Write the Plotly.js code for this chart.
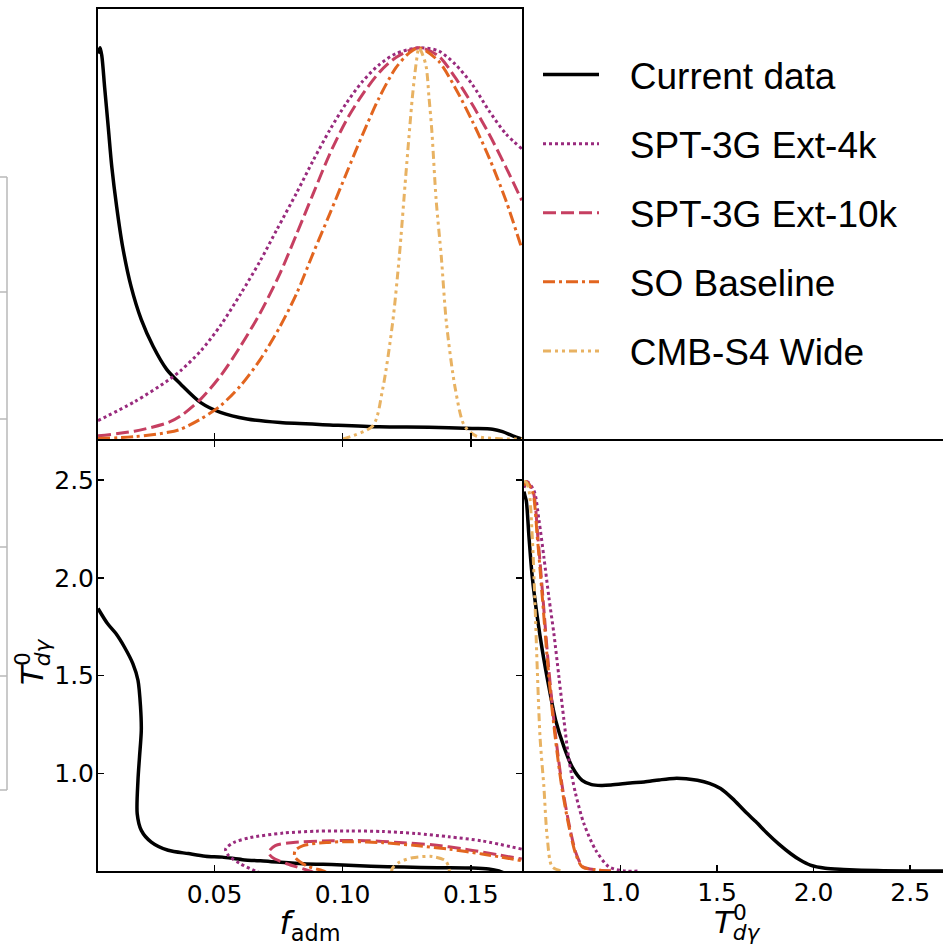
<!DOCTYPE html>
<html>
<head>
<meta charset="utf-8">
<script src="https://cdn.plot.ly/plotly-3.0.1.min.js"></script>
<style>html,body{margin:0;padding:0;background:#fff}#chart{width:943px;height:946px}</style>
</head>
<body>
<div id="chart"></div>
<script>
// ---------- data ----------
const seriesNames = ["Current data", "SPT-3G Ext-4k", "SPT-3G Ext-10k", "SO Baseline", "CMB-S4 Wide"];

// 1D posterior of f_adm (top-left panel), normalised to peak = 1
const fCurX = [0.0045,0.0053,0.0060,0.0071,0.0085,0.0099,0.0118,0.0141,0.0174,0.0214,0.0260,0.0313,0.0368,0.0446,0.0523,0.0627,0.0756,0.0950,0.1143,0.1337,0.1505,0.1585,0.1624,0.1664,0.1700];
const fCurY = [0.985,1.000,0.979,0.898,0.797,0.695,0.593,0.492,0.390,0.305,0.237,0.178,0.140,0.093,0.068,0.051,0.042,0.036,0.031,0.030,0.027,0.025,0.019,0.008,0.000];
const fS4kX = [0.0045,0.0187,0.0319,0.0368,0.0446,0.0523,0.0601,0.0678,0.0743,0.0821,0.0885,0.0950,0.1014,0.1079,0.1143,0.1208,0.1298,0.1374,0.1439,0.1505,0.1571,0.1637,0.1699];
const fS4kY = [0.047,0.095,0.150,0.175,0.225,0.290,0.370,0.455,0.535,0.630,0.712,0.790,0.858,0.915,0.957,0.985,1.000,0.992,0.958,0.907,0.839,0.780,0.742];
const fS10kX = [0.0045,0.0187,0.0319,0.0368,0.0446,0.0523,0.0601,0.0678,0.0756,0.0821,0.0885,0.0950,0.1014,0.1079,0.1143,0.1208,0.1298,0.1374,0.1439,0.1505,0.1571,0.1637,0.1699];
const fS10kY = [0.008,0.020,0.042,0.059,0.102,0.161,0.237,0.322,0.424,0.525,0.627,0.729,0.814,0.882,0.937,0.975,1.000,0.979,0.924,0.856,0.780,0.695,0.610];
const fSOX = [0.0045,0.0187,0.0319,0.0368,0.0446,0.0523,0.0601,0.0678,0.0756,0.0821,0.0885,0.0950,0.1014,0.1079,0.1143,0.1208,0.1260,0.1298,0.1374,0.1439,0.1505,0.1571,0.1637,0.1699];
const fSOY = [0.001,0.006,0.017,0.025,0.051,0.085,0.136,0.203,0.288,0.373,0.475,0.576,0.678,0.780,0.873,0.949,0.987,1.000,0.966,0.898,0.814,0.720,0.610,0.487];
const fS4X = [0.1000,0.1021,0.1118,0.1156,0.1195,0.1221,0.1247,0.1272,0.1288,0.1298,0.1324,0.1337,0.1348,0.1365,0.1385,0.1405,0.1440,0.1475,0.1520,0.1600,0.1700];
const fS4Y = [0.000,0.004,0.034,0.127,0.297,0.466,0.678,0.873,0.966,1.000,0.958,0.873,0.788,0.610,0.466,0.297,0.127,0.034,0.008,0.001,0.000];

// 1D posterior of T_dgamma (bottom-right panel), normalised to peak = 1
const tCurX = [0.500,0.505,0.512,0.526,0.543,0.569,0.595,0.629,0.664,0.707,0.750,0.801,0.850,0.900,0.950,1.050,1.122,1.200,1.277,1.340,1.398,1.460,1.518,1.580,1.639,1.700,1.759,1.820,1.880,1.930,1.983,2.060,2.155,2.328,2.500,2.700];
const tCurY = [0.975,0.964,0.951,0.857,0.755,0.652,0.567,0.473,0.387,0.319,0.267,0.233,0.222,0.220,0.221,0.226,0.229,0.234,0.238,0.237,0.233,0.225,0.212,0.186,0.156,0.127,0.097,0.069,0.045,0.028,0.015,0.007,0.004,0.001,0.000,0.000];
const tS4kX = [0.500,0.517,0.552,0.578,0.603,0.629,0.655,0.681,0.707,0.733,0.767,0.810,0.871,0.939,1.025,1.100];
const tS4kY = [0.985,1.000,0.977,0.900,0.806,0.703,0.609,0.498,0.387,0.285,0.199,0.122,0.054,0.011,0.000,0.000];
const tS10kX = [0.500,0.512,0.546,0.572,0.598,0.623,0.649,0.675,0.701,0.736,0.770,0.805,0.875,0.950];
const tS10kY = [0.990,1.000,0.977,0.857,0.703,0.549,0.413,0.302,0.208,0.114,0.045,0.011,0.003,0.000];
const tSOX = [0.500,0.509,0.543,0.569,0.595,0.620,0.646,0.672,0.698,0.733,0.767,0.801,0.870,0.950];
const tSOY = [0.990,1.000,0.977,0.857,0.703,0.549,0.413,0.302,0.208,0.114,0.045,0.011,0.003,0.000];
const tS4X = [0.500,0.510,0.526,0.543,0.557,0.569,0.583,0.603,0.620,0.646,0.698];
const tS4Y = [1.000,1.000,0.977,0.857,0.686,0.515,0.344,0.216,0.088,0.011,0.000];

// 2D contours f_adm vs T_dgamma (bottom-left panel)
const cCurX = [0.0045,0.0082,0.0115,0.0148,0.0181,0.0201,0.0211,0.0214,0.0207,0.0201,0.0198,0.0214,0.0253,0.0319,0.0398,0.0464,0.0530,0.0609,0.0715,0.0846,0.0978,0.1110,0.1240,0.1370,0.1510,0.1570,0.1610,0.1630];
const cCurY = [1.843,1.766,1.715,1.646,1.561,1.476,1.339,1.220,1.083,0.964,0.793,0.708,0.648,0.606,0.589,0.576,0.571,0.558,0.549,0.537,0.532,0.524,0.520,0.517,0.515,0.510,0.500,0.490];
const cS4kX = [0.0680,0.0659,0.0601,0.0555,0.0543,0.0575,0.0640,0.0769,0.0898,0.1027,0.1156,0.1286,0.1415,0.1544,0.1699];
const cS4kY = [0.490,0.500,0.537,0.578,0.612,0.646,0.671,0.694,0.704,0.705,0.702,0.692,0.675,0.654,0.612];
const cS10kX = [0.0890,0.0872,0.0782,0.0724,0.0711,0.0737,0.0807,0.0962,0.1091,0.1220,0.1349,0.1478,0.1607,0.1699];
const cS10kY = [0.490,0.500,0.537,0.571,0.596,0.630,0.646,0.655,0.655,0.646,0.634,0.612,0.583,0.561];
const cSOX = [0.0940,0.0924,0.0859,0.0814,0.0814,0.0846,0.0936,0.1027,0.1156,0.1286,0.1415,0.1544,0.1699];
const cSOY = [0.490,0.500,0.527,0.571,0.604,0.630,0.646,0.650,0.645,0.630,0.612,0.587,0.553];
const cS4X = [0.1190,0.1195,0.1221,0.1272,0.1350,0.1401,0.1414,0.1417];
const cS4Y = [0.490,0.516,0.545,0.568,0.574,0.553,0.519,0.490];

// tick labels
const fTickVals = [0.05, 0.10, 0.15];
const fTickText = ["0.05", "0.10", "0.15"];
const tTickVals = [1.0, 1.5, 2.0, 2.5];
const tTickText = ["1.0", "1.5", "2.0", "2.5"];

// ---------- styles ----------
const W = 943, H = 946;
const styles = [
  {color: "#000000", width: 3.5, dash: "solid"},
  {color: "#992a7d", width: 3, dash: "3px,3px"},
  {color: "#c63f61", width: 3, dash: "13px,5px"},
  {color: "#e2651f", width: 3, dash: "12px,4px,3px,4px"},
  {color: "#e8b262", width: 3, dash: "8px,4px,3px,4px,3px,4px"}
];
const fSets = [[fCurX,fCurY],[fS4kX,fS4kY],[fS10kX,fS10kY],[fSOX,fSOY],[fS4X,fS4Y]];
const tSets = [[tCurX,tCurY],[tS4kX,tS4kY],[tS10kX,tS10kY],[tSOX,tSOY],[tS4X,tS4Y]];
const cSets = [[cCurX,cCurY],[cS4kX,cS4kY],[cS10kX,cS10kY],[cSOX,cSOY],[cS4X,cS4Y]];
// widen the gap between legend key and label, as in the reference
const legendPad = "<span style='letter-spacing:2.6px'>\u00a0\u00a0</span>";

function tr(xy, xa, ya, i, show) {
  return {
    type: "scatter", mode: "lines", x: xy[0], y: xy[1], xaxis: xa, yaxis: ya,
    name: legendPad + seriesNames[i], legendgroup: "g" + i, showlegend: show,
    line: {color: styles[i].color, width: styles[i].width, dash: styles[i].dash, shape: "spline", smoothing: 0.8},
    hoverinfo: "skip"
  };
}
const traces = [];
fSets.forEach((s, i) => traces.push(tr(s, "x", "y", i, true)));
cSets.forEach((s, i) => traces.push(tr(s, "x2", "y2", i, false)));
tSets.forEach((s, i) => traces.push(tr(s, "x3", "y3", i, false)));

// panel geometry in pixels -> paper fractions
const px = v => v / W, py = v => 1 - v / H;
const L = 98, T = 9;
const ML = 522, MR = 524;   // shared vertical frame line
const MT = 439, MB = 441;   // shared horizontal frame line
const B = 871;
const tickFont = {family: "DejaVu Sans", size: 25, color: "#000"};
const axBase = {showgrid: false, zeroline: false, showline: true, linecolor: "#000", linewidth: 2,
  ticks: "inside", ticklen: 6, tickwidth: 1.5, tickcolor: "#000", tickfont: tickFont};
const labelFont = {family: "DejaVu Sans", size: 32, color: "#000"};
const tLabelFont = {family: "DejaVu Sans", size: 31, color: "#000"};
const tLabel = "<i>T</i><sup><span style='letter-spacing:-14px'>0</span></sup><sub><i>dγ</i></sub>";

const layout = {
  width: W, height: H, margin: {l: 0, r: 0, t: 0, b: 0},
  paper_bgcolor: "#fff", plot_bgcolor: "rgba(0,0,0,0)",
  showlegend: true,
  legend: {x: px(538), xanchor: "left", y: py(44), yanchor: "top", bgcolor: "rgba(0,0,0,0)",
    font: {family: "Liberation Sans, Arial, sans-serif", size: 37, color: "#000"},
    itemwidth: 56, tracegroupgap: 18, traceorder: "grouped"},
  xaxis: Object.assign({}, axBase, {domain: [px(L), px(ML)], range: [0.0045, 0.170], anchor: "y",
    tickvals: fTickVals, ticktext: fTickText, showticklabels: false, mirror: true}),
  yaxis: Object.assign({}, axBase, {domain: [py(MT), py(T)], range: [0, 1.099], anchor: "x",
    ticks: "", showticklabels: false, mirror: true}),
  xaxis2: Object.assign({}, axBase, {domain: [px(L), px(ML)], range: [0.0045, 0.170], anchor: "y2",
    tickvals: fTickVals, ticktext: fTickText, mirror: "ticks",
    title: {text: "<i>f</i><sub>adm</sub>", font: labelFont, standoff: 10}}),
  yaxis2: Object.assign({}, axBase, {domain: [py(B), py(MB)], range: [0.50, 2.70], anchor: "x2",
    tickvals: tTickVals, ticktext: tTickText, mirror: "ticks", ticklabelstandoff: -3}),
  xaxis3: Object.assign({}, axBase, {domain: [px(MR), 1], range: [0.5, 2.67], anchor: "y3",
    tickvals: tTickVals, ticktext: tTickText, mirror: true, ticklabelstandoff: -2}),
  yaxis3: Object.assign({}, axBase, {domain: [py(B), py(MB)], range: [0, 1.105], anchor: "x3",
    ticks: "", showticklabels: false, showline: false}),
  annotations: [
    {xref: "paper", yref: "paper", x: px(737), y: 0, xanchor: "center", yanchor: "bottom", showarrow: false,
      borderpad: 0, text: tLabel, font: tLabelFont},
    {xref: "paper", yref: "paper", x: px(34), y: py(662), xanchor: "center", yanchor: "middle", showarrow: false,
      textangle: -90, text: tLabel, font: tLabelFont}
  ],
  shapes: []
};

// faint grey frame fragment visible at the far left of the reference crop
const edgeYs = [177, 292, 419, 547, 676, 790];
layout.shapes.push({type: "line", xref: "paper", yref: "paper", x0: px(7), x1: px(7), y0: py(edgeYs[0]), y1: py(edgeYs[edgeYs.length - 1]),
  line: {color: "#b8b8b8", width: 1.5}});
edgeYs.forEach(v => layout.shapes.push({type: "line", xref: "paper", yref: "paper", x0: 0, x1: px(7), y0: py(v), y1: py(v),
  line: {color: "#b8b8b8", width: 1.5}}));

Plotly.newPlot("chart", traces, layout, {staticPlot: true, displayModeBar: false});
</script>
</body>
</html>
